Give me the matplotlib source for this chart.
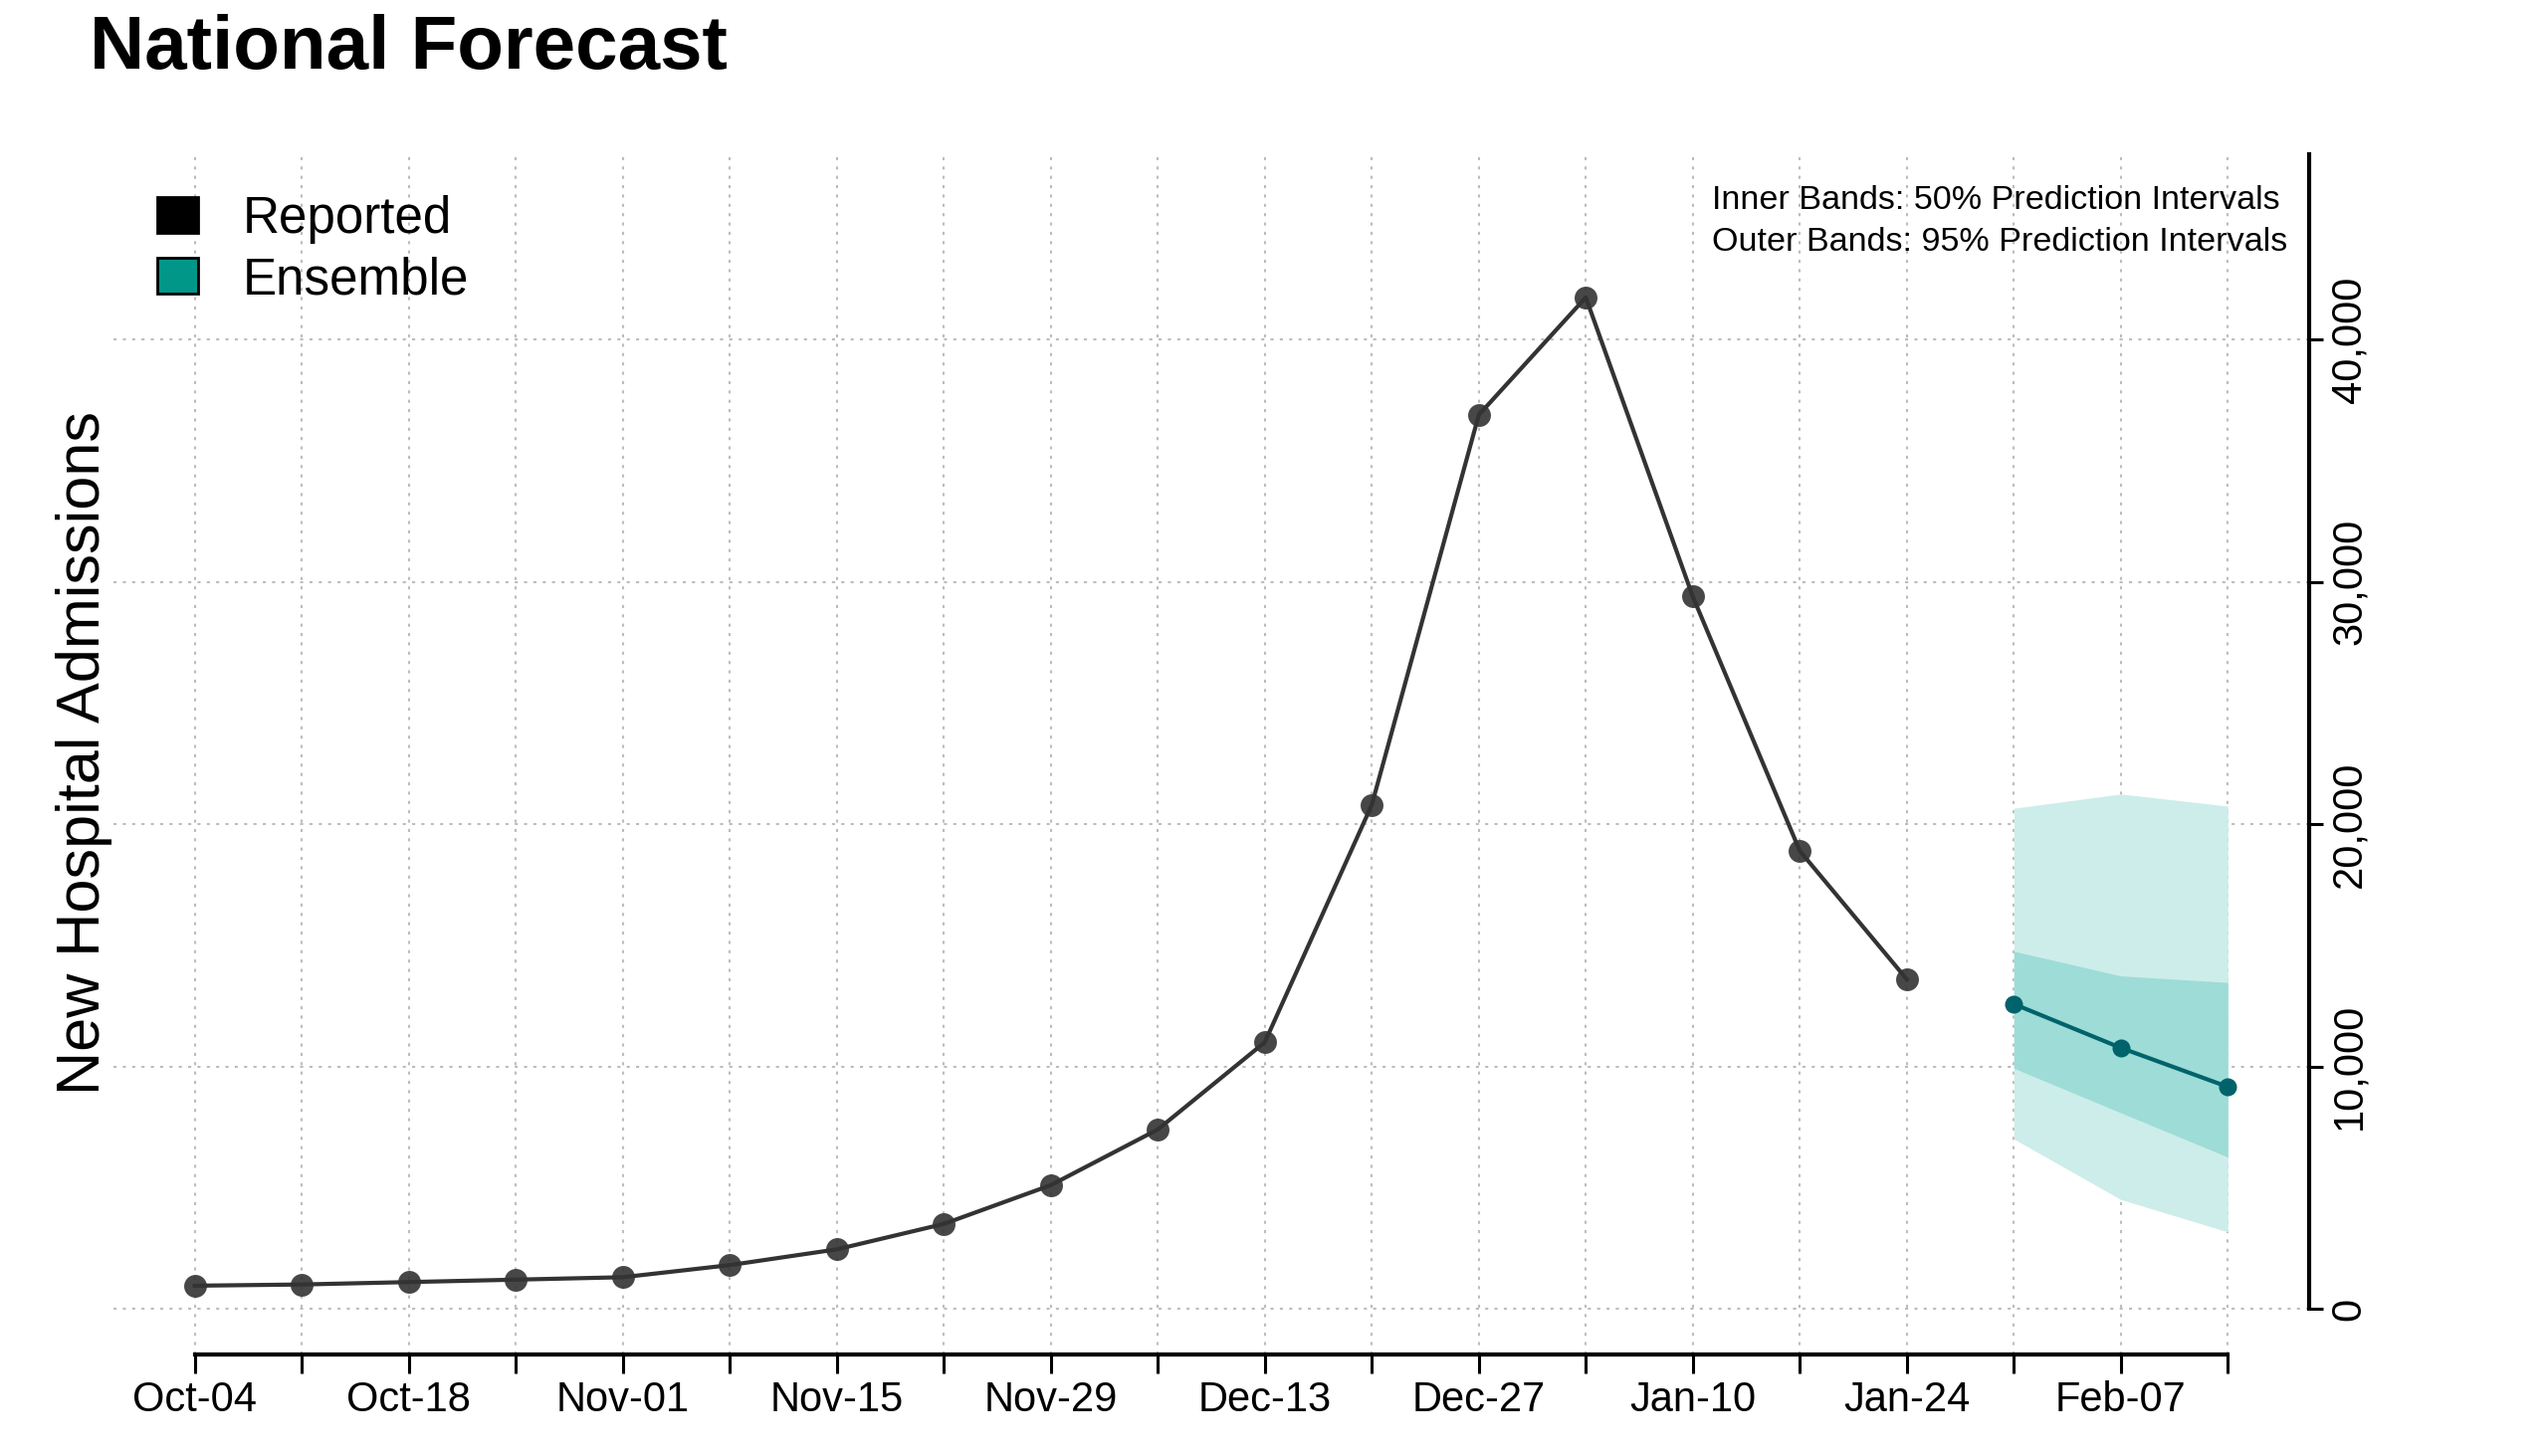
import numpy as np
import matplotlib
matplotlib.use('Agg')
import matplotlib.pyplot as plt
from matplotlib.patches import Patch
from matplotlib.ticker import FuncFormatter

plt.rcParams['font.family'] = ['Liberation Sans', 'DejaVu Sans']

# ---- data ----
week_labels = ['Oct-04', 'Oct-11', 'Oct-18', 'Oct-25', 'Nov-01', 'Nov-08', 'Nov-15',
               'Nov-22', 'Nov-29', 'Dec-06', 'Dec-13', 'Dec-20', 'Dec-27', 'Jan-03',
               'Jan-10', 'Jan-17', 'Jan-24', 'Jan-31', 'Feb-07', 'Feb-14']
reported = [950, 1000, 1100, 1200, 1300, 1800, 2450, 3500, 5100, 7400,
            11000, 20800, 36900, 41750, 29400, 18900, 13600]
ens_median = [12580, 10770, 9160]
ens_lo95 = [7010, 4510, 3170]
ens_hi95 = [20660, 21250, 20750]
ens_lo50 = [9930, 8090, 6260]
ens_hi50 = [14760, 13740, 13470]
yticks = [0, 10000, 20000, 30000, 40000]

W, H = 2560, 1463
fig = plt.figure(figsize=(W / 100, H / 100), dpi=100)
ax = fig.add_axes([114 / W, 102 / H, (2320 - 114) / W, (1361 - 155) / H])

x_all = np.arange(len(week_labels))
x_rep = x_all[:len(reported)]
x_fc = x_all[len(reported):len(reported) + len(ens_median)]

# prediction bands
ax.fill_between(x_fc, ens_lo95, ens_hi95, color='#cdedea', lw=0, zorder=1)
ax.fill_between(x_fc, ens_lo50, ens_hi50, color='#9edcd7', lw=0, zorder=2)

ax.plot(x_rep, reported, color='#333333', lw=3, zorder=4)
ax.plot(x_rep, reported, 'o', color='#333333', ms=16.5, alpha=0.9, mew=0, zorder=5)
ax.plot(x_fc, ens_median, '-o', color='#00636b', lw=3, ms=13, mew=0, zorder=6)

ax.set_xlim(-0.76, 19.76)
ax.set_ylim(-1890, 47660)

ax.set_xticks(x_all)
ax.set_xticklabels([lab if i % 2 == 0 else '' for i, lab in enumerate(week_labels)])
ax.set_yticks(yticks)
ax.yaxis.set_major_formatter(FuncFormatter(lambda v, p: f'{int(v):,}'))

ax.grid(True, color='#bdbdbd', ls=(0, (1.5, 3)), lw=1.5, zorder=0)
ax.set_axisbelow(True)

for s in ['top', 'left']:
    ax.spines[s].set_visible(False)
ax.spines['bottom'].set_bounds(0, len(week_labels) - 1)
ax.spines['bottom'].set_linewidth(3)
ax.spines['right'].set_bounds(0, 47660)
ax.spines['right'].set_linewidth(3)

ax.yaxis.tick_right()
ax.tick_params(axis='x', length=14, width=2.2, labelsize=30, pad=5)
ax.tick_params(axis='y', length=10, width=2.2, labelsize=30, pad=5, labelrotation=90)
for t in ax.get_yticklabels():
    t.set_va('center')

# legend
handles = [Patch(facecolor='black', edgecolor='black', lw=2),
           Patch(facecolor='#009688', edgecolor='black', lw=2)]
ax.legend(handles, ['Reported', 'Ensemble'], loc='upper left',
          bbox_to_anchor=(158 / W, 1 - 196 / H), bbox_transform=fig.transFigure,
          frameon=False, fontsize=36.8, handlelength=0.8, handleheight=0.7,
          handletextpad=0.88, labelspacing=0.24, borderpad=0, borderaxespad=0)

fig.text(90 / W, 1 - 69 / H, 'National Forecast', fontsize=55, fontweight='bold',
         ha='left', va='baseline')
fig.text(85 / W, 1 - 757 / H, 'New Hospital Admissions', fontsize=44,
         rotation=90, ha='center', va='center')
fig.text(1720 / W, 1 - 202 / H, 'Inner Bands: 50% Prediction Intervals',
         fontsize=24.6, ha='left', va='center')
fig.text(1720 / W, 1 - 243 / H, 'Outer Bands: 95% Prediction Intervals',
         fontsize=24.6, ha='left', va='center')

fig.savefig('out.png', dpi=100, facecolor='white')
